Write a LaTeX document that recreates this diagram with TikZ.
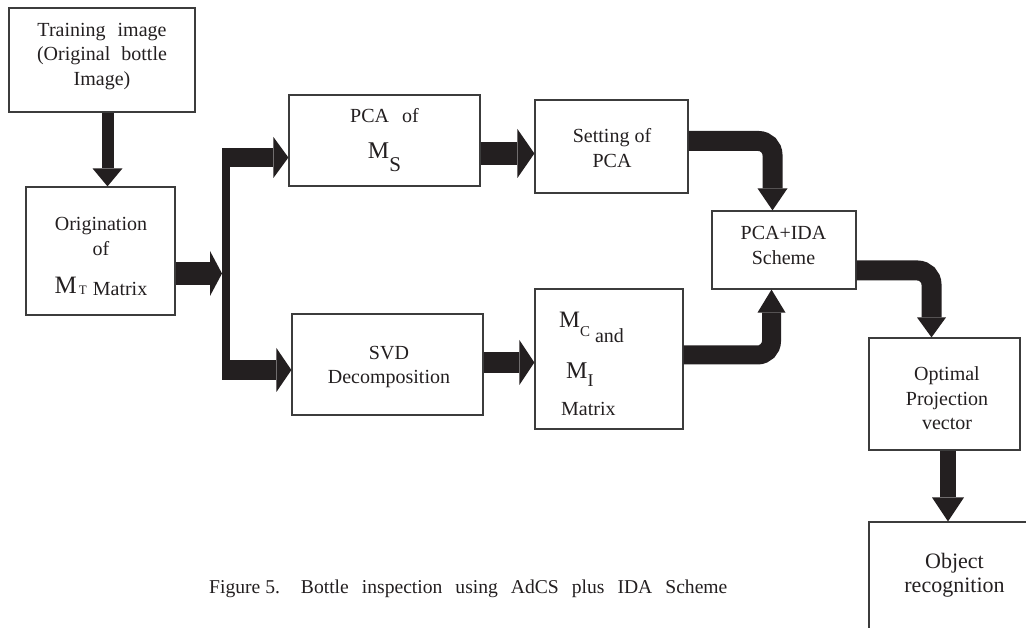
\documentclass[tikz,border=0pt]{standalone}
\usepackage{fontspec}
\setmainfont{Liberation Serif}
\usetikzlibrary{arrows.meta}
\definecolor{ink}{HTML}{231F20}
\definecolor{frame}{HTML}{3C3C3C}
\tikzset{
  box/.style={draw=frame, line width=1.2pt, fill=none, inner sep=0pt},
  txt/.style={text=ink, align=center, inner sep=0pt, font=\fontsize{20}{24.5}\selectfont},
  flow/.style n args={3}{draw=ink, line width=#1,
    -{Triangle[width=#2, length=#3, line width=0pt]}},
  bar/.style={draw=ink, line width=8pt},
}
% block from its two corners: name, x1, y1, x2, y2
\newcommand\blockbox[5]{%
  \node[box, minimum width={(#4)-(#2)}, minimum height={(#5)-(#3)}]
    (#1) at ({((#2)+(#4))/2},{((#3)+(#5))/2}) {};}
\begin{document}
\begin{tikzpicture}[x=1pt, y=-1pt]
\useasboundingbox (0,0) rectangle (1026,628);
\clip (0,0) rectangle (1026,628);

% blocks
\blockbox{train}{9}{8}{195}{112}
\blockbox{orig}{26}{187}{175}{315}
\blockbox{pca}{289}{95}{480}{186}
\blockbox{set}{535}{100}{688}{193}
\blockbox{svd}{292}{314}{483}{415}
\blockbox{mc}{535}{289}{683}{429}
\blockbox{ida}{712}{211}{856}{289}
\blockbox{opt}{869}{338}{1020}{450}
\blockbox{obj}{869}{522}{1045}{660}

% block texts
\node[txt] (train-t) at (102,56.5)
  {Training\hspace{12pt}image\\(Original\hspace{11pt}bottle\\Image)};
\node[txt] (orig-t) at (101,256.5)
  {Origination\\of\\[14pt]{\fontsize{25}{25}\selectfont M}\hspace{2pt}\raisebox{-1pt}{\fontsize{13}{13}\selectfont T}\hspace{6pt}\raisebox{-2pt}{Matrix}};
\node[txt] (pca-t) at (384.5,140)
  {PCA\hspace{13pt}of\\[11pt]{\fontsize{24}{24}\selectfont M}\raisebox{-13pt}{\fontsize{21}{21}\selectfont S}};
\node[txt] (set-t) at (612,148) {Setting of\\PCA};
\node[txt] (svd-t) at (389,367) {SVD\\Decomposition};
\node[txt, anchor=base west] (mc-t1) at (559,328)
  {{\fontsize{23.5}{23.5}\selectfont M}\raisebox{-9pt}{\fontsize{15}{15}\selectfont C}\hspace{5pt}\raisebox{-15pt}{and}};
\node[txt, anchor=base west] (mc-t2) at (566,379)
  {{\fontsize{24}{24}\selectfont M}\raisebox{-8pt}{\fontsize{18}{18}\selectfont I}};
\node[txt, anchor=base west] (mc-t3) at (561,416) {Matrix};
\node[txt] (ida-t) at (783.5,245.5) {PCA+IDA\\Scheme};
\node[txt] (opt-t) at (947,398.5) {Optimal\\Projection\\vector};
\node[txt, font=\fontsize{22}{24.5}\selectfont] (obj-t) at (954.5,575) {Object\\recognition};

% caption
\node[txt, anchor=base west, font=\fontsize{19.6}{20}\selectfont] (caption) at (209,593)
  {Figure 5.\hspace{21pt}Bottle\hspace{13pt}inspection\hspace{13pt}using\hspace{13pt}AdCS\hspace{13pt}plus\hspace{13pt}IDA\hspace{13pt}Scheme};

% connectors
\draw[flow={12pt}{30pt}{18pt}] ([xshift=5.5pt]train.south) -- ([xshift=5.5pt]train.south |- orig.north);

\coordinate (jn) at (222,273.5);
\draw[flow={23pt}{45pt}{12pt}] (orig.east |- jn) -- (jn);

\coordinate (bt) at (226,148);
\coordinate (bb) at (226,380);
\draw[bar] (bt) -- (bb);

\coordinate (ub) at (222,157.5);
\draw[flow={19pt}{41pt}{15pt}] (ub) -- (ub -| pca.west);
\coordinate (lb) at (222,370);
\draw[flow={20pt}{44pt}{15pt}] (lb) -- (lb -| svd.west);

\coordinate (ps) at ([yshift=-13pt]pca.east);
\draw[flow={23pt}{49pt}{17pt}] (ps) -- (ps -| set.west);

\coordinate (sm) at ([yshift=2pt]svd.east);
\draw[flow={21pt}{45pt}{15pt}] (sm) -- (sm -| mc.west);

\draw[flow={20pt}{30pt}{22pt}, rounded corners=14pt]
  ([yshift=5.5pt]set.east) -| ([xshift=-11.5pt]ida.north);
\draw[flow={19pt}{28pt}{23pt}, rounded corners=14pt]
  ([yshift=4pt]mc.east) -| ([xshift=-12.5pt]ida.south);
\draw[flow={20pt}{29pt}{20pt}, rounded corners=14pt]
  ([yshift=-20.5pt]ida.east) -| ([xshift=-13pt]opt.north);

\draw[flow={16pt}{32pt}{24pt}] ([xshift=3.5pt]opt.south) -- ([xshift=3.5pt]opt.south |- obj.north);
\end{tikzpicture}
\end{document}
